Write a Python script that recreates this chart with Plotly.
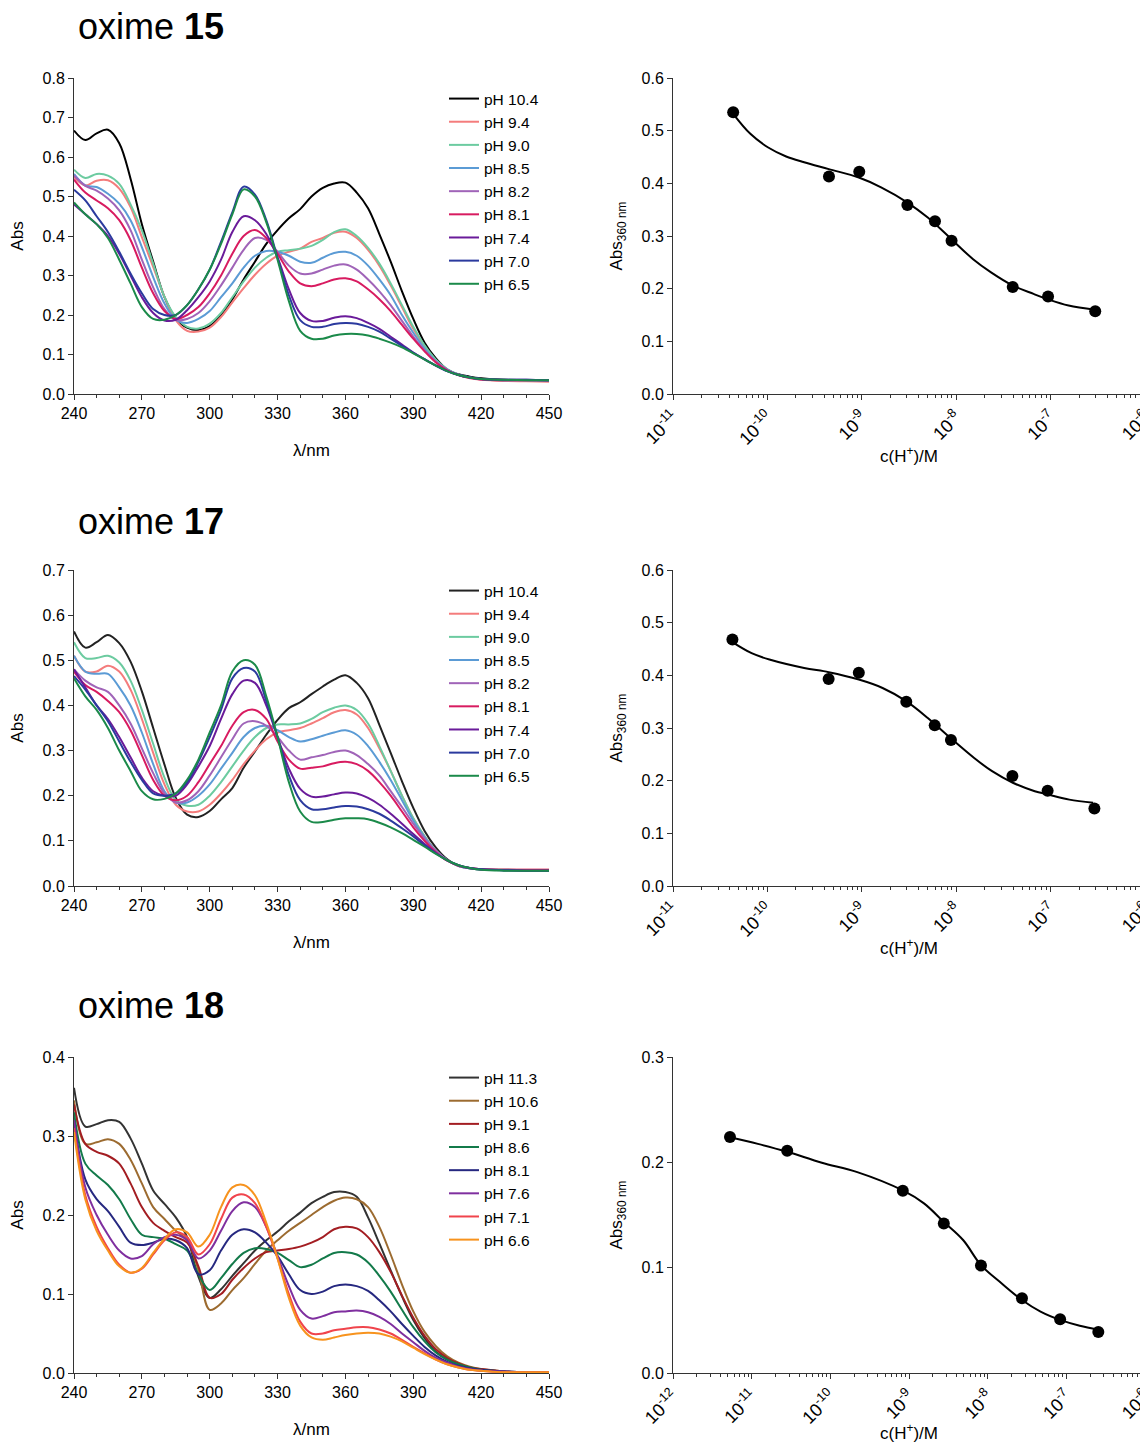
import math
import plotly.graph_objects as go

# ---------------- data ----------------
WL = [240, 245, 250, 255, 260, 265, 270, 275, 280, 285, 290, 295, 300, 305, 310, 315, 320, 325, 330, 335,
      340, 345, 350, 355, 360, 365, 370, 375, 380, 385, 390, 395, 400, 405, 410, 415, 420, 430, 440, 450]

# oxime 15 spectra
ox15_labels = ["pH 10.4", "pH 9.4", "pH 9.0", "pH 8.5", "pH 8.2", "pH 8.1", "pH 7.4", "pH 7.0", "pH 6.5"]
ox15_pH104 = [.667, .643, .660, .669, .635, .545, .430, .335, .245, .191, .168, .162, .172, .200, .240, .290, .335, .380, .415, .445,
              .468, .500, .522, .533, .535, .510, .470, .405, .335, .260, .190, .130, .090, .062, .050, .044, .040, .036, .035, .034]
ox15_pH94 = [.549, .528, .540, .541, .520, .473, .397, .322, .246, .187, .160, .158, .168, .195, .232, .268, .302, .330, .350, .360,
             .368, .385, .395, .408, .411, .395, .365, .325, .275, .220, .165, .120, .085, .062, .048, .040, .036, .033, .032, .031]
ox15_pH90 = [.568, .547, .557, .553, .532, .480, .414, .330, .246, .195, .170, .166, .178, .205, .245, .285, .320, .345, .360, .364,
             .368, .375, .390, .410, .417, .400, .370, .330, .280, .225, .170, .123, .087, .063, .049, .042, .038, .035, .035, .034]
ox15_pH85 = [.557, .528, .524, .507, .482, .440, .372, .296, .229, .188, .180, .190, .210, .245, .280, .320, .350, .362, .360, .350,
             .335, .332, .345, .357, .360, .350, .325, .290, .250, .200, .155, .115, .083, .062, .049, .042, .038, .035, .035, .034]
ox15_pH82 = [.553, .527, .515, .495, .465, .415, .340, .270, .215, .187, .190, .205, .235, .275, .320, .365, .395, .390, .360, .325,
             .305, .305, .315, .325, .328, .315, .290, .260, .225, .185, .145, .110, .082, .061, .048, .041, .037, .035, .035, .034]
ox15_pH81 = [.543, .510, .490, .470, .440, .390, .320, .255, .210, .190, .200, .220, .255, .300, .355, .400, .415, .395, .355, .310,
             .280, .273, .280, .290, .293, .285, .265, .240, .210, .175, .140, .108, .080, .060, .048, .041, .037, .035, .035, .035]
ox15_pH74 = [.480, .455, .430, .400, .355, .300, .245, .205, .186, .188, .212, .245, .285, .340, .410, .450, .440, .405, .345, .265,
             .205, .185, .185, .193, .197, .192, .180, .165, .145, .125, .105, .088, .072, .058, .048, .042, .038, .036, .036, .035]
ox15_pH70 = [.517, .490, .450, .410, .360, .305, .255, .215, .200, .200, .225, .265, .315, .385, .460, .525, .505, .440, .345, .250,
             .187, .170, .170, .177, .180, .178, .170, .158, .140, .122, .104, .088, .072, .058, .048, .042, .038, .036, .036, .035]
ox15_pH65 = [.485, .455, .430, .395, .340, .280, .220, .190, .188, .200, .225, .265, .315, .380, .455, .518, .500, .435, .340, .235,
             .160, .140, .140, .148, .152, .152, .148, .140, .130, .118, .103, .087, .072, .058, .048, .042, .038, .036, .035, .035]

# oxime 17 spectra
ox17_labels = ["pH 10.4", "pH 9.4", "pH 9.0", "pH 8.5", "pH 8.2", "pH 8.1", "pH 7.4", "pH 7.0", "pH 6.5"]
ox17_pH104 = [.564, .528, .540, .556, .538, .497, .431, .350, .269, .195, .158, .153, .166, .192, .217, .262, .298, .335, .368, .394,
              .407, .425, .442, .457, .467, .450, .416, .357, .295, .232, .173, .122, .085, .059, .044, .039, .037, .036, .035, .034]
ox17_pH94 = [.510, .475, .475, .488, .475, .435, .370, .295, .225, .180, .165, .165, .180, .205, .235, .270, .300, .325, .340, .345,
             .350, .360, .372, .385, .390, .380, .350, .305, .255, .200, .150, .110, .078, .057, .045, .040, .037, .036, .036, .036]
ox17_pH90 = [.540, .505, .505, .510, .495, .455, .390, .315, .240, .190, .178, .180, .200, .230, .265, .300, .330, .350, .358, .358,
             .360, .370, .385, .395, .400, .390, .360, .310, .255, .200, .150, .110, .078, .057, .045, .039, .036, .035, .034, .034]
ox17_pH85 = [.510, .475, .470, .470, .440, .400, .340, .270, .210, .185, .185, .200, .225, .260, .295, .330, .350, .355, .345, .330,
             .320, .325, .333, .340, .345, .335, .310, .275, .235, .190, .145, .108, .078, .057, .045, .039, .036, .035, .034, .034]
ox17_pH82 = [.480, .455, .440, .430, .400, .360, .305, .250, .205, .185, .190, .210, .245, .285, .325, .360, .365, .355, .330, .300,
             .280, .285, .290, .297, .300, .290, .270, .245, .210, .175, .138, .105, .078, .057, .045, .039, .036, .035, .034, .034]
ox17_pH81 = [.475, .445, .430, .410, .385, .345, .290, .235, .200, .190, .200, .230, .270, .310, .355, .385, .390, .370, .320, .280,
             .260, .262, .265, .272, .275, .270, .255, .230, .200, .165, .130, .100, .075, .056, .045, .040, .037, .036, .036, .036]
ox17_pH74 = [.480, .440, .400, .370, .330, .285, .240, .210, .200, .200, .225, .265, .310, .370, .425, .455, .450, .400, .330, .260,
             .215, .198, .198, .203, .207, .205, .195, .180, .160, .138, .115, .093, .073, .057, .046, .040, .037, .035, .034, .034]
ox17_pH70 = [.465, .435, .400, .365, .320, .275, .235, .205, .200, .205, .230, .275, .330, .390, .460, .483, .475, .410, .330, .245,
             .190, .170, .170, .174, .177, .176, .170, .160, .145, .128, .110, .090, .072, .057, .046, .040, .037, .035, .034, .034]
ox17_pH65 = [.460, .420, .390, .350, .300, .255, .210, .192, .193, .205, .235, .280, .340, .400, .475, .500, .490, .420, .330, .230,
             .165, .142, .142, .147, .150, .150, .148, .140, .130, .117, .102, .087, .071, .057, .046, .040, .036, .034, .034, .034]

# oxime 18 spectra
ox18_labels = ["pH 11.3", "pH 10.6", "pH 9.1", "pH 8.6", "pH 8.1", "pH 7.6", "pH 7.1", "pH 6.6"]
ox18_pH113 = [.361, .312, .315, .320, .318, .297, .265, .231, .214, .197, .172, .122, .095, .106, .123, .139, .155, .168, .179, .192,
              .203, .215, .223, .229, .229, .223, .197, .164, .130, .097, .067, .044, .027, .017, .011, .006, .004, .002, .001, .001]
ox18_pH106 = [.345, .290, .292, .296, .290, .270, .240, .210, .195, .180, .168, .130, .080, .088, .105, .120, .138, .155, .168, .180,
              .190, .200, .210, .218, .222, .220, .210, .185, .150, .112, .078, .052, .034, .021, .013, .008, .005, .002, .001, .001]
ox18_pH91 = [.340, .290, .280, .275, .265, .240, .210, .190, .180, .172, .165, .135, .095, .100, .118, .133, .145, .153, .155, .157,
             .160, .165, .172, .182, .185, .183, .172, .153, .128, .098, .070, .047, .030, .019, .012, .007, .005, .002, .001, .001]
ox18_pH86 = [.330, .265, .250, .238, .220, .195, .175, .172, .170, .163, .155, .125, .105, .120, .138, .152, .158, .157, .152, .143,
             .134, .137, .145, .152, .153, .150, .140, .123, .103, .080, .058, .040, .026, .017, .011, .007, .004, .002, .001, .001]
ox18_pH81 = [.320, .245, .220, .205, .185, .165, .162, .165, .170, .168, .158, .125, .130, .155, .175, .182, .178, .165, .148, .125,
             .105, .100, .103, .110, .112, .110, .104, .092, .078, .062, .047, .033, .022, .014, .009, .006, .004, .002, .001, .001]
ox18_pH76 = [.320, .235, .200, .175, .155, .145, .148, .163, .172, .175, .168, .145, .155, .180, .205, .216, .210, .185, .148, .110,
             .080, .069, .072, .077, .078, .079, .077, .071, .062, .050, .039, .028, .019, .013, .008, .005, .003, .002, .001, .001]
ox18_pH71 = [.310, .225, .185, .158, .137, .127, .132, .150, .168, .178, .172, .150, .163, .195, .222, .226, .215, .185, .145, .100,
             .065, .050, .050, .054, .056, .058, .058, .055, .050, .042, .033, .025, .017, .011, .007, .004, .003, .001, .001, .001]
ox18_pH66 = [.305, .220, .180, .155, .135, .127, .133, .152, .170, .182, .178, .160, .175, .210, .235, .238, .225, .190, .145, .095,
             .060, .045, .042, .045, .048, .050, .051, .050, .046, .040, .032, .024, .017, .011, .007, .004, .003, .001, .001, .001]

# titration points (c(H+)/M, Abs 360 nm)
t15_H = [4.34e-11, 4.49e-10, 9.4e-10, 3.04e-9, 5.96e-9, 8.93e-9, 3.97e-8, 9.4e-8, 2.97e-7]
t15_A = [0.535, 0.413, 0.422, 0.359, 0.328, 0.291, 0.203, 0.185, 0.157]
t17_H = [4.26e-11, 4.45e-10, 9.3e-10, 2.96e-9, 5.92e-9, 8.8e-9, 3.94e-8, 9.3e-8, 2.91e-7]
t17_A = [0.468, 0.393, 0.405, 0.350, 0.305, 0.277, 0.209, 0.181, 0.147]
t18_H = [5.3e-12, 2.83e-11, 8.34e-10, 2.77e-9, 8.22e-9, 2.73e-8, 8.34e-8, 2.55e-7]
t18_A = [0.224, 0.211, 0.173, 0.142, 0.102, 0.071, 0.051, 0.039]

# fitted curves
f15_H = [4.34e-11, 6.6e-11, 1.02e-10, 1.58e-10, 2.45e-10, 4.47e-10, 9.3e-10, 1.62e-9, 3.02e-9, 5.0e-9, 8.9e-9,
         1.51e-8, 2.34e-8, 3.98e-8, 6.6e-8, 9.3e-8, 1.55e-7, 2.95e-7]
f15_A = [0.532, 0.494, 0.468, 0.451, 0.440, 0.427, 0.411, 0.392, 0.364, 0.335, 0.294,
         0.256, 0.231, 0.206, 0.190, 0.180, 0.168, 0.160]
f17_H = [4.26e-11, 6.8e-11, 1.05e-10, 2.45e-10, 4.47e-10, 9.3e-10, 1.66e-9, 2.95e-9, 5.0e-9, 8.7e-9,
         1.55e-8, 2.4e-8, 3.98e-8, 6.8e-8, 9.3e-8, 1.58e-7, 2.82e-7]
f17_A = [0.463, 0.442, 0.430, 0.414, 0.406, 0.392, 0.376, 0.351, 0.319, 0.281,
         0.243, 0.218, 0.196, 0.180, 0.174, 0.164, 0.158]
f18_H = [5.3e-12, 1.2e-11, 2.83e-11, 7.8e-11, 2.2e-10, 8.34e-10, 1.55e-9, 2.77e-9, 4.9e-9, 8.22e-9,
         1.51e-8, 2.73e-8, 4.7e-8, 8.34e-8, 1.48e-7, 2.55e-7]
f18_A = [0.2238, 0.2175, 0.2100, 0.1996, 0.1907, 0.1733, 0.1610, 0.1434, 0.1260, 0.1024,
         0.0850, 0.0693, 0.0583, 0.0504, 0.0448, 0.0410]

colors_15 = ["#000000", "#f47c7c", "#6ccba0", "#5b9bd5", "#a064b8", "#d81b60", "#6a1b9a", "#2b3a9e", "#1b8a4a"]
colors_17 = ["#222222", "#f47c7c", "#6ccba0", "#5b9bd5", "#a064b8", "#d81b60", "#6a1b9a", "#2b3a9e", "#1b8a4a"]
colors_18 = ["#333333", "#9c6b30", "#a31d22", "#137a4a", "#262880", "#7f2f9f", "#f0444c", "#f7931e"]

H_TICKS_A = [1e-11, 1e-10, 1e-9, 1e-8, 1e-7, 1e-6]
H_TICKS_B = [1e-12, 1e-11, 1e-10, 1e-9, 1e-8, 1e-7, 1e-6]

# ---------------- figure ----------------
FONT = "Liberation Sans, Arial, sans-serif"
OFF = 8                      # default page margin of the html body
W, H = 1148 - OFF, 1443 - OFF


def px_x(v):
    return (v - OFF) / W


def px_y(v):
    return 1 - (v - OFF) / H


fig = go.Figure()

spec_sets = [
    (ox15_labels, [ox15_pH104, ox15_pH94, ox15_pH90, ox15_pH85, ox15_pH82, ox15_pH81, ox15_pH74, ox15_pH70, ox15_pH65], colors_15),
    (ox17_labels, [ox17_pH104, ox17_pH94, ox17_pH90, ox17_pH85, ox17_pH82, ox17_pH81, ox17_pH74, ox17_pH70, ox17_pH65], colors_17),
    (ox18_labels, [ox18_pH113, ox18_pH106, ox18_pH91, ox18_pH86, ox18_pH81, ox18_pH76, ox18_pH71, ox18_pH66], colors_18),
]
tit_sets = [(t15_H, t15_A, f15_H, f15_A), (t17_H, t17_A, f17_H, f17_A), (t18_H, t18_A, f18_H, f18_A)]

rows = [(78, 394), (570, 886), (1057, 1373)]
left_x = (74, 549)
right_x = (673, 1145)
yranges_left = [0.8, 0.7, 0.4]
yranges_right = [0.6, 0.6, 0.3]
titles = ["oxime <b>15</b>", "oxime <b>17</b>", "oxime <b>18</b>"]
title_y = [27, 521, 1005]
legend_names = ["legend", "legend2", "legend3"]

axis_common = dict(showline=True, linecolor="#333333", linewidth=1, ticks="outside", ticklen=5,
                   tickcolor="#333333", showgrid=False, zeroline=False, automargin=False,
                   ticklabeloverflow="allow")
tick_font = dict(family=FONT, size=16, color="black")
title_font = dict(family=FONT, size=17, color="black")

layout = {}
for i in range(3):
    labels, series, cols = spec_sets[i]
    xl = "x%d" % (2 * i + 1)
    yl = "y%d" % (2 * i + 1)
    xr = "x%d" % (2 * i + 2)
    yr = "y%d" % (2 * i + 2)
    for lab, ys, c in zip(labels, series, cols):
        fig.add_trace(go.Scatter(x=WL, y=ys, mode="lines", name=lab, line=dict(color=c, width=2, shape="spline"),
                                 xaxis=xl, yaxis=yl, legend=legend_names[i]))
    tH, tA, fH, fA = tit_sets[i]
    fig.add_trace(go.Scatter(x=fH, y=fA, mode="lines", line=dict(color="black", width=2, shape="spline"),
                             xaxis=xr, yaxis=yr, showlegend=False))
    fig.add_trace(go.Scatter(x=tH, y=tA, mode="markers", marker=dict(color="black", size=12),
                             xaxis=xr, yaxis=yr, showlegend=False))

    top, bot = rows[i]
    ydom = [px_y(bot), px_y(top)]
    k = 2 * i + 1
    layout["xaxis%d" % k if k > 1 else "xaxis"] = dict(
        domain=[px_x(left_x[0]), px_x(left_x[1])], anchor=yl, range=[240, 450],
        tickvals=[240, 270, 300, 330, 360, 390, 420, 450],
        minor=dict(tickvals=[v for v in range(250, 450, 10) if (v - 240) % 30], ticks="outside", ticklen=3,
                   tickcolor="#333333"),
        title=dict(text="λ/nm", font=title_font, standoff=22), tickfont=tick_font,
        **axis_common)
    layout["yaxis%d" % k if k > 1 else "yaxis"] = dict(
        domain=ydom, anchor=xl, range=[0, yranges_left[i]], dtick=0.1, tickformat=".1f",
        title=dict(text="Abs", font=title_font, standoff=14), tickfont=tick_font,
        **axis_common)
    ticks_h = H_TICKS_A if i < 2 else H_TICKS_B
    minors = [m * t for t in ticks_h[:-1] for m in range(2, 10)]
    layout["xaxis%d" % (k + 1)] = dict(
        domain=[px_x(right_x[0]), px_x(right_x[1])], anchor=yr, type="log",
        range=[-11 if i < 2 else -12, -6], tickvals=ticks_h,
        ticktext=["10<sup>%d</sup>" % round(math.log10(t)) for t in ticks_h],
        tickangle=-45, tickfont=dict(family=FONT, size=18, color="black"),
        minor=dict(tickvals=minors, ticks="outside", ticklen=3, tickcolor="#333333"),
        title=dict(text="c(H<sup>+</sup>)/M", font=title_font, standoff=0),
        **axis_common)
    layout["yaxis%d" % (k + 1)] = dict(
        domain=ydom, anchor=xr, range=[0, yranges_right[i]], dtick=0.1, tickformat=".1f",
        title=dict(text="Abs<sub>360 nm</sub>", font=title_font, standoff=14), tickfont=tick_font,
        **axis_common)
    layout[legend_names[i]] = dict(x=px_x(444), y=px_y(top + 4), xanchor="left", yanchor="top",
                                   bgcolor="rgba(0,0,0,0)", font=dict(family=FONT, size=15.5, color="black"),
                                   itemwidth=30, tracegroupgap=0)

annotations = []
for i in range(3):
    annotations.append(dict(text=titles[i], x=px_x(76), y=px_y(title_y[i]), xref="paper", yref="paper",
                            xanchor="left", yanchor="middle", showarrow=False,
                            font=dict(family=FONT, size=36, color="black")))

fig.update_layout(width=W, height=H, margin=dict(l=0, r=0, t=0, b=0, autoexpand=False), plot_bgcolor="white",
                  paper_bgcolor="white", annotations=annotations, font=dict(family=FONT), **layout)

fig.write_html("out.html")
